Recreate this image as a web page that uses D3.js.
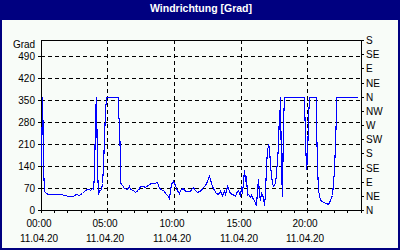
<!DOCTYPE html>
<html><head><meta charset="utf-8">
<script src="https://cdn.jsdelivr.net/npm/d3@7"></script>
<style>html,body{margin:0;padding:0;background:#fff;overflow:hidden}</style>
</head><body><svg id="c" width="400" height="250"></svg>
<script>
const title = "Windrichtung [Grad]";
const yUnit = "Grad";
const dateLabel = "11.04.20";
const hours = [0,0.08,0.1,0.16,0.18,0.25,0.375,0.525,1.025,1.525,1.775,2.15,2.4,2.65,2.9,3.075,3.275,3.475,3.6,3.725,3.85,3.95,
4.0,4.05,4.1,4.15,4.2,4.275,4.35,4.45,4.55,4.625,4.7,4.775,4.85,4.925,5.775,5.825,5.875,5.925,5.975,6.075,6.275,6.45,6.6,6.725,6.9,
7.075,7.275,7.45,7.65,7.85,8.025,8.275,8.525,8.725,8.85,9.025,9.225,9.4,9.525,9.625,9.7,9.775,9.925,10.075,10.225,10.35,10.475,
10.65,10.775,10.9,11.075,11.225,11.325,11.45,11.575,11.725,11.875,12.025,12.15,12.325,12.475,12.6,12.7,12.825,12.975,13.15,13.325,
13.475,13.6,13.725,13.825,13.975,14.075,14.2,14.325,14.475,14.6,14.725,14.825,14.925,15.025,15.125,15.225,15.3,15.375,15.45,15.575,
15.675,15.775,15.9,16.025,16.15,16.225,16.3,16.375,16.45,16.525,16.6,16.675,16.75,16.825,16.875,16.975,17.05,17.125,17.225,17.35,
17.425,17.55,17.675,17.8,17.875,17.925,17.975,18.025,18.1,18.175,18.25,19.75,19.825,19.9,19.975,20.05,20.125,20.625,20.675,20.75,
20.825,20.925,21.175,21.425,21.55,21.675,21.875,21.975,22.075,22.125,22.175,23.75];
const degrees = [139,360,285,285,139,59,53,51,51,51,47,45,46,51,49,54,59,66,68,63,70,66,
112,283,308,360,138,52,65,63,66,86,139,229,314,360,360,292,292,139,88,78,70,68,75,68,65,
56,65,75,75,72,78,86,86,88,70,67,59,51,46,35,65,84,91,78,65,54,63,
70,65,59,59,59,70,72,65,56,59,65,72,78,91,107,97,75,63,54,52,
59,49,59,52,75,70,54,52,49,43,59,63,46,75,54,128,91,107,49,52,
41,49,35,33,15,65,97,54,33,56,43,46,17,54,139,192,208,200,139,86,
77,86,118,202,319,282,360,128,45,282,360,360,224,130,160,293,360,360,287,139,
65,33,27,22,20,33,49,128,213,309,360,360];
const leftTicks = [0,70,140,210,280,350,420,490];
const compassValues = [0,45,90,135,180,225,270,315,360,405,450,495,540];
const compassLabels = ["N","NE","E","SE","S","SW","W","NW","N","NE","E","SE","S"];
const hourTicks = [0,1,2,3,4,5,6,7,8,9,10,11,12,13,14,15,16,17,18,19,20,21,22,23,24];
const timeTicks = [0,5,10,15,20];
const timeLabels = ["00:00","05:00","10:00","15:00","20:00"];

const FONT = "'Liberation Sans', Arial, sans-serif";
const svg = d3.select("#c");
svg.append("rect").attr("width",400).attr("height",250).attr("fill","#000080");
svg.append("rect").attr("x",2).attr("y",20).attr("width",396).attr("height",228).attr("fill","#f8fcf8");
svg.append("text").attr("x",201).attr("y",12).attr("text-anchor","middle")
  .attr("font-family",FONT).attr("font-weight","bold").attr("font-size","10.5px").attr("fill","#fff").text(title);

const x = d3.scaleLinear().domain([0,24]).rangeRound([40.6,360.6]);
const y = d3.scaleLinear().domain([0,540]).rangeRound([210,40]);

// grid
const grid = svg.append("g").attr("stroke","#000").attr("stroke-dasharray","4,3").attr("shape-rendering","crispEdges");
leftTicks.filter(d=>d>0).forEach(d=>{
  grid.append("line").attr("x1",41).attr("x2",361).attr("y1",y(d)+0.5).attr("y2",y(d)+0.5);
});
timeTicks.filter(d=>d>0).forEach(d=>{
  grid.append("line").attr("y1",40).attr("y2",210).attr("x1",x(d)+0.5).attr("x2",x(d)+0.5);
});

// frame
svg.append("rect").attr("x",41.5).attr("y",40.5).attr("width",320).attr("height",170)
  .attr("fill","none").attr("stroke","#000").attr("shape-rendering","crispEdges");

function style(g){
  g.select(".domain").remove();
  g.selectAll("line").attr("stroke","#000").attr("shape-rendering","crispEdges");
  g.selectAll("text").attr("font-family",FONT).attr("font-size","10px").attr("fill","#000");
}
svg.append("g").attr("transform","translate(41,0)")
  .call(d3.axisLeft(y).tickValues(leftTicks).tickSize(3).tickPadding(3).tickFormat(d3.format("d"))).call(style);
svg.append("g").attr("transform","translate(361,0)")
  .call(d3.axisRight(y).tickValues(compassValues).tickSize(3).tickPadding(2).tickFormat((d,i)=>compassLabels[i])).call(style);
svg.append("g").attr("transform","translate(0,210)")
  .call(d3.axisBottom(x).tickValues(hourTicks).tickSize(3).tickFormat("")).call(style);

const lab = svg.append("g").attr("font-family",FONT).attr("font-size","10px").attr("fill","#000").attr("text-anchor","middle");
timeTicks.forEach((t,i)=>{
  lab.append("text").attr("x",x(t)-2).attr("y",227).text(timeLabels[i]);
  lab.append("text").attr("x",x(t)-2).attr("y",242).text(dateLabel);
});
svg.append("text").attr("x",24).attr("y",48).attr("text-anchor","middle")
  .attr("font-family",FONT).attr("font-size","10px").text(yUnit);

const data = hours.map((h,i)=>({h, v: degrees[i]}));
svg.append("path").datum(data)
  .attr("fill","none").attr("stroke","#0000ff").attr("stroke-width",1.1)
  .attr("shape-rendering","crispEdges")
  .attr("d", d3.line().x(d=>x(d.h)+0.5).y(d=>y(d.v)+0.5));
</script></body></html>
